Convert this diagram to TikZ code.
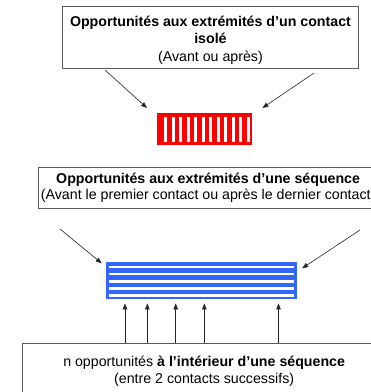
\documentclass[tikz,border=0pt]{standalone}
\usepackage{fontspec}
\setmainfont{Liberation Sans}
\usetikzlibrary{arrows.meta,calc}
\definecolor{boxline}{RGB}{90,90,90}
\definecolor{seqblue}{RGB}{51,102,255}
\definecolor{isored}{RGB}{255,0,0}
\begin{document}
\begin{tikzpicture}[x=1pt,y=-1pt,
  txtbox/.style={draw=boxline,line width=0.9pt,fill=white,anchor=north west,inner sep=0pt,align=center,
    font=\fontsize{14.2}{16.5}\selectfont},
  arr/.style={draw=black!85,line width=0.6pt,-{Triangle[length=6pt,width=4.5pt]}}]
\useasboundingbox (0,0) rectangle (371,392);
\clip (0,0) rectangle (371,392);
\fill[white] (0,0) rectangle (371,392);
% top box
\node[txtbox,minimum width=296pt,minimum height=62pt] (tb) at (62,6)
  {\rule{0pt}{17pt}\textbf{Opportunités aux extrémités d'un contact}\\\textbf{isolé}\\[2pt](Avant ou après)};
% red isolated contact
\node[fill=isored,anchor=north west,inner sep=0pt,minimum width=95pt,minimum height=32pt] (red) at (157,113) {};
\foreach \i in {0,...,11} \fill[white] ({164+\i*7.5},116.7) rectangle ++(3.3,25.6);
% middle box
\node[txtbox,minimum width=340pt,minimum height=41pt] (mb) at (37.7,167)
  {\textbf{Opportunités aux extrémités d'une séquence}\\(Avant le premier contact ou après le dernier contact)};
% blue sequence
\node[fill=seqblue,anchor=north west,inner sep=0pt,minimum width=191pt,minimum height=37pt] (blue) at (106,262) {};
\foreach \i in {0,...,4} \fill[white] (109,{265.6+\i*7.1}) rectangle (294,{268.3+\i*7.1});
% bottom box
\node[txtbox,minimum width=364pt,minimum height=56pt] (bb) at (21.7,343)
  {n opportunités \textbf{à l'intérieur d'une séquence}\\(entre 2 contacts successifs)};
% arrows to the red contact
\coordinate (s1) at (105,70);
\coordinate (s2) at (314,73);
\draw[arr] (s1) -- ($(red.north west)+(-10,-5)$);
\draw[arr] (s2) -- ($(red.north east)+(10,-5)$);
% arrows to the blue sequence ends
\coordinate (s3) at (60,229);
\coordinate (s4) at (360,230);
\draw[arr] (s3) -- ($(blue.north west)+(-4.3,1.3)$);
\draw[arr] (s4) -- ($(blue.north east)+(4.7,6.3)$);
% arrows from inside
\foreach \xx in {125,147.3,175.7,204.3,278.5}
  \draw[arr] (bb.north -| {\xx,0}) -- ($(blue.south -| {\xx,0})+(0,4)$);
\end{tikzpicture}
\end{document}
